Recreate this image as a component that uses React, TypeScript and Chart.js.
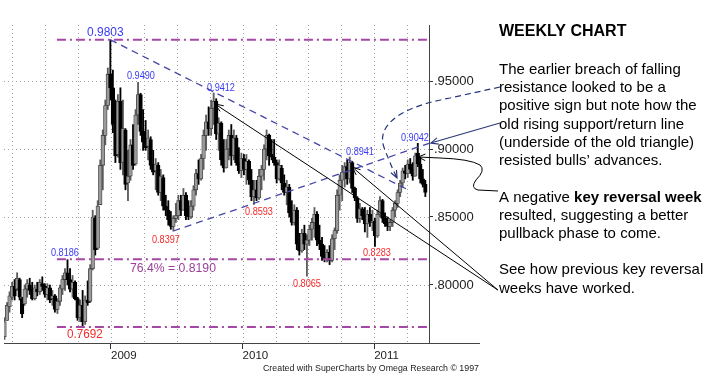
import React, { useEffect, useRef } from 'react';
import { Chart, registerables } from 'chart.js';

Chart.register(...registerables);

const FONT = '"Liberation Sans", Arial, Helvetica, sans-serif';

// ---- Weekly OHLC (index 0 = mid March 2008, one bar per week) ----
const opens = [
  0.762, 0.774, 0.784, 0.791, 0.799, 0.797, 0.804, 0.790, 0.786, 0.797,
  0.800, 0.797, 0.790, 0.797, 0.795, 0.801, 0.799, 0.793, 0.798, 0.790,
  0.792, 0.782, 0.788, 0.797, 0.804, 0.809, 0.804, 0.797, 0.802, 0.790,
  0.776, 0.785, 0.773, 0.789, 0.788, 0.812, 0.849, 0.827, 0.859, 0.888,
  0.910, 0.932, 0.955, 0.945, 0.918, 0.896, 0.935, 0.890, 0.914, 0.875,
  0.880, 0.903, 0.889, 0.925, 0.940, 0.913, 0.905, 0.902, 0.907, 0.889,
  0.884, 0.888, 0.868, 0.879, 0.858, 0.855, 0.848, 0.843, 0.849, 0.851,
  0.862, 0.855, 0.866, 0.851, 0.850, 0.858, 0.870, 0.882, 0.878, 0.893,
  0.910, 0.920, 0.915, 0.930, 0.935, 0.911, 0.919, 0.892, 0.886, 0.900,
  0.910, 0.895, 0.908, 0.890, 0.884, 0.893, 0.885, 0.891, 0.877, 0.865,
  0.870, 0.864, 0.880, 0.885, 0.900, 0.910, 0.896, 0.894, 0.890, 0.878,
  0.886, 0.875, 0.868, 0.872, 0.853, 0.846, 0.855, 0.830, 0.825, 0.838,
  0.830, 0.833, 0.841, 0.846, 0.852, 0.833, 0.830, 0.821, 0.819, 0.824,
  0.818, 0.834, 0.840, 0.866, 0.877, 0.883, 0.887, 0.878, 0.890, 0.871,
  0.864, 0.849, 0.856, 0.851, 0.845, 0.852, 0.846, 0.847, 0.836, 0.852,
  0.862, 0.849, 0.845, 0.843, 0.846, 0.855, 0.860, 0.868, 0.875, 0.884,
  0.882, 0.889, 0.885, 0.880, 0.897, 0.889, 0.878, 0.874,
];
const highs = [
  0.776, 0.787, 0.795, 0.802, 0.804, 0.809, 0.805, 0.791, 0.800, 0.804,
  0.805, 0.802, 0.800, 0.802, 0.804, 0.806, 0.801, 0.801, 0.800, 0.796,
  0.793, 0.790, 0.800, 0.807, 0.812, 0.8186, 0.812, 0.807, 0.803, 0.791,
  0.789, 0.796, 0.792, 0.803, 0.815, 0.855, 0.851, 0.862, 0.892, 0.914,
  0.936, 0.9596, 0.9803, 0.958, 0.936, 0.940, 0.945, 0.936, 0.915, 0.899,
  0.907, 0.918, 0.929, 0.949, 0.941, 0.929, 0.921, 0.914, 0.909, 0.899,
  0.893, 0.890, 0.885, 0.881, 0.866, 0.862, 0.854, 0.851, 0.860, 0.866,
  0.866, 0.871, 0.868, 0.862, 0.862, 0.873, 0.885, 0.892, 0.896, 0.914,
  0.925, 0.931, 0.936, 0.9412, 0.937, 0.923, 0.920, 0.907, 0.907, 0.914,
  0.918, 0.914, 0.910, 0.901, 0.897, 0.896, 0.896, 0.892, 0.885, 0.877,
  0.877, 0.885, 0.888, 0.903, 0.914, 0.911, 0.907, 0.907, 0.892, 0.892,
  0.888, 0.881, 0.877, 0.874, 0.862, 0.859, 0.857, 0.838, 0.841, 0.844,
  0.837, 0.844, 0.849, 0.857, 0.854, 0.844, 0.835, 0.829, 0.826, 0.829,
  0.837, 0.842, 0.870, 0.881, 0.888, 0.890, 0.892, 0.8941, 0.891, 0.872,
  0.865, 0.860, 0.857, 0.857, 0.855, 0.857, 0.855, 0.849, 0.855, 0.865,
  0.863, 0.853, 0.850, 0.848, 0.857, 0.862, 0.870, 0.877, 0.886, 0.888,
  0.892, 0.893, 0.890, 0.897, 0.9042, 0.894, 0.885, 0.877,
];
const lows = [
  0.760, 0.774, 0.780, 0.789, 0.789, 0.796, 0.789, 0.776, 0.785, 0.791,
  0.793, 0.789, 0.789, 0.792, 0.793, 0.796, 0.791, 0.789, 0.787, 0.785,
  0.780, 0.779, 0.785, 0.793, 0.796, 0.800, 0.795, 0.791, 0.789, 0.774,
  0.773, 0.7692, 0.771, 0.785, 0.787, 0.811, 0.822, 0.826, 0.859, 0.870,
  0.903, 0.929, 0.936, 0.912, 0.890, 0.894, 0.885, 0.881, 0.870, 0.862,
  0.877, 0.885, 0.888, 0.918, 0.910, 0.899, 0.899, 0.892, 0.885, 0.881,
  0.870, 0.866, 0.862, 0.855, 0.851, 0.844, 0.841, 0.8397, 0.846, 0.848,
  0.851, 0.855, 0.848, 0.848, 0.849, 0.855, 0.866, 0.874, 0.877, 0.885,
  0.899, 0.910, 0.910, 0.918, 0.907, 0.899, 0.888, 0.883, 0.886, 0.892,
  0.888, 0.892, 0.888, 0.882, 0.879, 0.881, 0.874, 0.874, 0.862, 0.8593,
  0.862, 0.863, 0.870, 0.877, 0.892, 0.888, 0.892, 0.888, 0.875, 0.877,
  0.870, 0.866, 0.859, 0.850, 0.844, 0.844, 0.826, 0.822, 0.824, 0.826,
  0.8065, 0.829, 0.833, 0.835, 0.829, 0.826, 0.818, 0.817, 0.817, 0.815,
  0.817, 0.826, 0.838, 0.855, 0.862, 0.872, 0.874, 0.875, 0.868, 0.862,
  0.846, 0.846, 0.848, 0.839, 0.835, 0.843, 0.840, 0.8283, 0.835, 0.850,
  0.846, 0.843, 0.840, 0.840, 0.843, 0.850, 0.857, 0.865, 0.872, 0.878,
  0.879, 0.882, 0.877, 0.880, 0.887, 0.875, 0.872, 0.865,
];
const closes = [
  0.773, 0.785, 0.792, 0.799, 0.792, 0.805, 0.791, 0.779, 0.797, 0.801,
  0.796, 0.790, 0.798, 0.795, 0.802, 0.799, 0.793, 0.798, 0.789, 0.792,
  0.782, 0.788, 0.798, 0.804, 0.809, 0.804, 0.797, 0.802, 0.790, 0.776,
  0.785, 0.773, 0.789, 0.787, 0.812, 0.850, 0.826, 0.858, 0.888, 0.910,
  0.932, 0.955, 0.945, 0.918, 0.895, 0.935, 0.890, 0.915, 0.874, 0.880,
  0.903, 0.888, 0.925, 0.940, 0.913, 0.905, 0.901, 0.908, 0.888, 0.883,
  0.889, 0.868, 0.880, 0.858, 0.855, 0.848, 0.843, 0.849, 0.851, 0.862,
  0.855, 0.866, 0.851, 0.850, 0.858, 0.870, 0.882, 0.878, 0.893, 0.910,
  0.920, 0.915, 0.930, 0.935, 0.911, 0.919, 0.892, 0.886, 0.900, 0.910,
  0.895, 0.908, 0.890, 0.884, 0.893, 0.885, 0.891, 0.877, 0.865, 0.870,
  0.864, 0.880, 0.885, 0.900, 0.910, 0.895, 0.894, 0.890, 0.878, 0.888,
  0.875, 0.868, 0.872, 0.853, 0.846, 0.855, 0.830, 0.825, 0.838, 0.830,
  0.833, 0.841, 0.846, 0.852, 0.833, 0.830, 0.821, 0.819, 0.824, 0.818,
  0.834, 0.840, 0.866, 0.877, 0.883, 0.887, 0.878, 0.890, 0.871, 0.864,
  0.849, 0.856, 0.851, 0.845, 0.852, 0.846, 0.847, 0.836, 0.852, 0.862,
  0.849, 0.845, 0.843, 0.846, 0.855, 0.860, 0.868, 0.875, 0.884, 0.882,
  0.889, 0.885, 0.880, 0.895, 0.889, 0.878, 0.874, 0.868,
];

// ---- Axes ----
const priceTicks = [0.8, 0.85, 0.9, 0.95];
const yearTickIdx = [42.26, 94.48, 146.71];
const yearLabels = ['2009', '2010', '2011'];
const quarterGridIdx = [3.1, 16.15, 29.21, 42.26, 55.32, 68.37, 81.43, 94.48, 107.54, 120.6, 133.65, 146.71, 159.76];

// ---- Annotations (week index, price) ----
const fibLevels = [0.9803, 0.819, 0.7692];
const fibStartIdx = 20.8;
const resistanceLine = [[42, 0.9803], [160, 0.8701]];
const supportLine = [[67, 0.8397], [168.45, 0.9042]];
const reversalArrowTips = [[83.5, 0.9331], [137.9, 0.8868]];
const reversalArrowTail = [195.8, 0.7963];
const returnArrow = [[196.6, 0.9191], [169.2, 0.9044]];
const breachCurve = [
  [196.63, 0.94559], [176.79, 0.9375],
  [154.96, 0.93015], [147.02, 0.91544], [150.99, 0.89926],
  [152.98, 0.88971], [154.56, 0.88309], [155.75, 0.87868],
];
const keyReversalCurve = [
  [195.83, 0.86912], [187.9, 0.86985],
  [184.72, 0.87132], [187.1, 0.87721],
  [191.07, 0.88456], [188.69, 0.88824],
  [184.72, 0.89265], [172.82, 0.89338],
  [164.09, 0.89412],
];

const labelTexts = ['0.9803', '0.9490', '0.9412', '0.8941', '0.9042', '0.8186', '0.7692', '0.8397', '0.8593', '0.8065', '0.8283', '76.4% = 0.8190'];
const labelIdx = [32.74, 48.61, 80.36, 135.52, 157.34, 18.45, 24.8, 58.53, 95.44, 114.48, 142.26, 49.8];
const labelPrice = [0.98603, 0.95368, 0.94485, 0.89779, 0.90809, 0.82353, 0.76397, 0.83309, 0.85368, 0.80074, 0.82353, 0.8125];
const labelKind = ['hiBig', 'hi', 'hi', 'hi', 'hi', 'hi', 'loBig', 'lo', 'lo', 'lo', 'lo', 'fib'];

// ---- Commentary text ----
const panelTitle = 'WEEKLY CHART';
const panelLines: { segs: { t: string; b?: boolean }[]; w: number; base: number }[] = [
  { segs: [{ t: 'The earlier breach of falling' }], w: 180, base: 74 },
  { segs: [{ t: 'resistance looked to be a' }], w: 166, base: 92.2 },
  { segs: [{ t: 'positive sign but note how the' }], w: 197, base: 110.4 },
  { segs: [{ t: 'old rising support/return line' }], w: 184, base: 128.6 },
  { segs: [{ t: '(underside of the old triangle)' }], w: 192, base: 146.8 },
  { segs: [{ t: 'resisted bulls\u2019 advances.' }], w: 162, base: 165 },
  { segs: [{ t: 'A negative' }, { t: 'key reversal week', b: true }], w: 202, base: 201.6 },
  { segs: [{ t: 'resulted, suggesting a better' }], w: 188, base: 219.8 },
  { segs: [{ t: 'pullback phase to come.' }], w: 162, base: 238 },
  { segs: [{ t: 'See how previous key reversal' }], w: 203, base: 274.4 },
  { segs: [{ t: 'weeks have worked.' }], w: 134, base: 292.6 },
];
const creditText = 'Created with SuperCharts by Omega Research \u00A9 1997';

const UP = '#9a9a9a';
const DOWN = '#000000';
const BLUE = '#3a3af5';
const RED = '#f52a2a';
const PURPLE = '#9a3f9a';

function arrowHead(ctx: CanvasRenderingContext2D, tip: number[], from: number[], len = 8, ang = 0.42) {
  const a = Math.atan2(from[1] - tip[1], from[0] - tip[0]);
  ctx.beginPath();
  ctx.moveTo(tip[0] + len * Math.cos(a + ang), tip[1] + len * Math.sin(a + ang));
  ctx.lineTo(tip[0], tip[1]);
  ctx.lineTo(tip[0] + len * Math.cos(a - ang), tip[1] + len * Math.sin(a - ang));
  ctx.stroke();
}

function drawLabel(ctx: CanvasRenderingContext2D, text: string, x: number, y: number, size: number, color: string, sx: number) {
  ctx.save();
  ctx.translate(x, y);
  ctx.scale(sx, 1);
  ctx.font = `${size}px ${FONT}`;
  ctx.fillStyle = color;
  ctx.textAlign = 'left';
  ctx.textBaseline = 'middle';
  ctx.fillText(text, 0, 0);
  ctx.restore();
}

function drawJustified(ctx: CanvasRenderingContext2D, segs: { t: string; b?: boolean }[], x: number, base: number, target: number) {
  const fontN = `15px ${FONT}`;
  const fontB = `bold 15px ${FONT}`;
  const words: { w: string; b: boolean }[] = [];
  segs.forEach((s) => s.t.split(' ').filter(Boolean).forEach((w) => words.push({ w, b: !!s.b })));
  let sum = 0;
  const widths = words.map((o) => {
    ctx.font = o.b ? fontB : fontN;
    const m = ctx.measureText(o.w).width;
    sum += m;
    return m;
  });
  ctx.font = fontN;
  const sp = ctx.measureText(' ').width;
  const gaps = words.length - 1;
  let spW = sp;
  if (gaps > 0 && sum + gaps * sp < target) spW = (target - sum) / gaps;
  let cx = x;
  ctx.fillStyle = '#000';
  ctx.textAlign = 'left';
  ctx.textBaseline = 'alphabetic';
  words.forEach((o, k) => {
    ctx.font = o.b ? fontB : fontN;
    ctx.fillText(o.w, cx, base);
    cx += widths[k] + spW;
  });
}

const annotPlugin = {
  id: 'annot',
  beforeDatasetsDraw(chart: any) {
    const { ctx, chartArea: a, scales } = chart;
    const xs = scales.x;
    const ys = scales.y;
    ctx.save();
    ctx.strokeStyle = '#a0a0a0';
    ctx.lineWidth = 1;
    ctx.setLineDash([1, 3]);
    quarterGridIdx.forEach((q) => {
      const px = Math.round(xs.getPixelForValue(q)) + 0.5;
      ctx.beginPath();
      ctx.moveTo(px, a.top);
      ctx.lineTo(px, a.bottom);
      ctx.stroke();
    });
    priceTicks.forEach((t) => {
      const py = Math.round(ys.getPixelForValue(t)) + 0.5;
      ctx.beginPath();
      ctx.moveTo(a.left, py);
      ctx.lineTo(a.right, py);
      ctx.stroke();
    });
    ctx.restore();
  },
  afterDatasetsDraw(chart: any) {
    const { ctx, chartArea: a, scales } = chart;
    const xs = scales.x;
    const ys = scales.y;
    const P = (pt: number[]) => [xs.getPixelForValue(pt[0]), ys.getPixelForValue(pt[1])];
    ctx.save();

    // Fibonacci / extreme levels (dash-dot purple)
    ctx.strokeStyle = '#a548a5';
    ctx.lineWidth = 2;
    ctx.setLineDash([9, 4, 2, 4]);
    fibLevels.forEach((lv) => {
      const py = ys.getPixelForValue(lv);
      ctx.beginPath();
      ctx.moveTo(xs.getPixelForValue(fibStartIdx), py);
      ctx.lineTo(a.right, py);
      ctx.stroke();
    });

    // triangle lines (dashed blue)
    ctx.strokeStyle = '#4646a8';
    ctx.lineWidth = 1.3;
    ctx.setLineDash([7, 5]);
    [resistanceLine, supportLine].forEach((ln) => {
      const p0 = P(ln[0]);
      const p1 = P(ln[1]);
      ctx.beginPath();
      ctx.moveTo(p0[0], p0[1]);
      ctx.lineTo(p1[0], p1[1]);
      ctx.stroke();
    });

    // breach call-out curve (dashed navy)
    ctx.strokeStyle = '#24347a';
    ctx.lineWidth = 1.2;
    ctx.setLineDash([6, 4]);
    const b = breachCurve.map(P);
    ctx.beginPath();
    ctx.moveTo(b[0][0], b[0][1]);
    ctx.lineTo(b[1][0], b[1][1]);
    ctx.bezierCurveTo(b[2][0], b[2][1], b[3][0], b[3][1], b[4][0], b[4][1]);
    ctx.bezierCurveTo(b[5][0], b[5][1], b[6][0], b[6][1], b[7][0], b[7][1]);
    ctx.stroke();
    ctx.setLineDash([]);
    arrowHead(ctx, b[7], b[6], 8, 0.4);

    // return-line arrow (solid navy)
    const r0 = P(returnArrow[0]);
    const r1 = P(returnArrow[1]);
    ctx.strokeStyle = '#2a3878';
    ctx.lineWidth = 1.1;
    ctx.beginPath();
    ctx.moveTo(r0[0], r0[1]);
    ctx.lineTo(r1[0], r1[1]);
    ctx.stroke();
    arrowHead(ctx, r1, r0, 8, 0.42);

    // previous key reversal arrows (black)
    ctx.strokeStyle = '#000';
    ctx.lineWidth = 1;
    const tail = P(reversalArrowTail);
    reversalArrowTips.forEach((tp) => {
      const t = P(tp);
      ctx.beginPath();
      ctx.moveTo(tail[0], tail[1]);
      ctx.lineTo(t[0], t[1]);
      ctx.stroke();
      arrowHead(ctx, t, tail, 9, 0.38);
    });

    // key reversal curved arrow (black)
    const k = keyReversalCurve.map(P);
    ctx.beginPath();
    ctx.moveTo(k[0][0], k[0][1]);
    ctx.lineTo(k[1][0], k[1][1]);
    ctx.quadraticCurveTo(k[2][0], k[2][1], k[3][0], k[3][1]);
    ctx.quadraticCurveTo(k[4][0], k[4][1], k[5][0], k[5][1]);
    ctx.quadraticCurveTo(k[6][0], k[6][1], k[7][0], k[7][1]);
    ctx.lineTo(k[8][0], k[8][1]);
    ctx.stroke();
    arrowHead(ctx, k[8], k[7], 8, 0.42);

    // price labels
    labelTexts.forEach((txt, i) => {
      const x = xs.getPixelForValue(labelIdx[i]);
      const y = ys.getPixelForValue(labelPrice[i]);
      const kind = labelKind[i];
      if (kind === 'hiBig') drawLabel(ctx, txt, x, y, 13, BLUE, 0.92);
      else if (kind === 'loBig') drawLabel(ctx, txt, x, y, 13, RED, 0.9);
      else if (kind === 'fib') drawLabel(ctx, txt, x, y, 13, PURPLE, 0.94);
      else drawLabel(ctx, txt, x, y, 11, kind === 'hi' ? BLUE : RED, 0.83);
    });
    ctx.restore();
  },
  afterDraw(chart: any) {
    const { ctx, chartArea: a } = chart;
    ctx.save();
    // axis line continues under the price labels
    ctx.strokeStyle = '#444';
    ctx.lineWidth = 1;
    ctx.beginPath();
    ctx.moveTo(a.right, Math.round(a.bottom) + 0.5);
    ctx.lineTo(a.right + 51, Math.round(a.bottom) + 0.5);
    ctx.stroke();

    // credit
    ctx.font = `9px ${FONT}`;
    const cw = ctx.measureText(creditText).width;
    ctx.save();
    ctx.translate(263, 371);
    ctx.scale(216 / cw, 1);
    ctx.fillStyle = '#222';
    ctx.textBaseline = 'alphabetic';
    ctx.fillText(creditText, 0, 0);
    ctx.restore();

    // commentary panel
    ctx.fillStyle = '#000';
    ctx.font = `bold 16px ${FONT}`;
    ctx.textBaseline = 'alphabetic';
    ctx.textAlign = 'left';
    ctx.fillText(panelTitle, 499, 36);
    panelLines.forEach((ln) => drawJustified(ctx, ln.segs, 499, ln.base, ln.w));
    ctx.restore();
  },
};

export default function App() {
  const ref = useRef<HTMLCanvasElement | null>(null);
  useEffect(() => {
    if (!ref.current) return;
    const isUp = opens.map((o, i) => closes[i] >= o);
    const bodyColors = isUp.map((u) => (u ? UP : DOWN));
    const bodyBorders = isUp.map((u) => (u ? '#3c3c3c' : DOWN));
    const wickColors = isUp.map((u) => (u ? '#5e5e5e' : DOWN));
    const chart = new Chart(ref.current, {
      type: 'bar',
      data: {
        datasets: [
          {
            label: 'body',
            data: opens.map((o, i) => ({ x: i, y: [o, closes[i]] })) as any,
            backgroundColor: bodyColors,
            borderColor: bodyBorders,
            borderWidth: 0.8,
            borderSkipped: false,
            barThickness: 3.6,
            grouped: false,
            order: 0,
          } as any,
          {
            label: 'range',
            data: lows.map((l, i) => ({ x: i, y: [l, highs[i]] })) as any,
            backgroundColor: wickColors,
            barThickness: 1.2,
            grouped: false,
            order: 1,
            borderWidth: 0,
          } as any,
        ],
      },
      options: {
        animation: false,
        responsive: false,
        maintainAspectRatio: false,
        devicePixelRatio: 1,
        layout: { padding: { left: 4, top: 25, right: 232, bottom: 17 } },
        plugins: { legend: { display: false }, tooltip: { enabled: false } },
        scales: {
          x: {
            type: 'linear',
            min: -0.2,
            max: 168.45,
            offset: false,
            afterBuildTicks: (s: any) => {
              s.ticks = yearTickIdx.map((v) => ({ value: v }));
            },
            afterFit: (s: any) => {
              s.height = 30;
            },
            ticks: {
              autoSkip: false,
              maxRotation: 0,
              minRotation: 0,
              align: 'start',
              padding: 0,
              color: '#222',
              font: { family: FONT, size: 11.5 },
              callback: (_v: any, idx: number) => yearLabels[idx],
            },
            grid: { display: true, offset: false, drawOnChartArea: false, drawTicks: true, tickLength: 6, tickColor: '#333', tickWidth: 1 },
            border: { display: true, color: '#444', width: 1 },
          },
          y: {
            type: 'linear',
            position: 'right',
            min: 0.75735,
            max: 0.99118,
            beginAtZero: false,
            afterBuildTicks: (s: any) => {
              s.ticks = priceTicks.map((v) => ({ value: v }));
            },
            afterFit: (s: any) => {
              s.width = 50;
            },
            ticks: {
              padding: 1,
              color: '#222',
              font: { family: FONT, size: 13 },
              callback: (v: any) => '.' + Number(v).toFixed(5).split('.')[1],
            },
            grid: { display: true, drawOnChartArea: false, drawTicks: true, tickLength: 4, tickColor: '#333' },
            border: { display: true, color: '#444', width: 1 },
          },
        } as any,
      },
      plugins: [annotPlugin],
    });
    return () => chart.destroy();
  }, []);
  return (
    <div style={{ position: 'fixed', left: 0, top: 0, width: 711, height: 390, background: '#fff' }}>
      <canvas ref={ref} width={711} height={390} style={{ display: 'block' }} />
    </div>
  );
}
